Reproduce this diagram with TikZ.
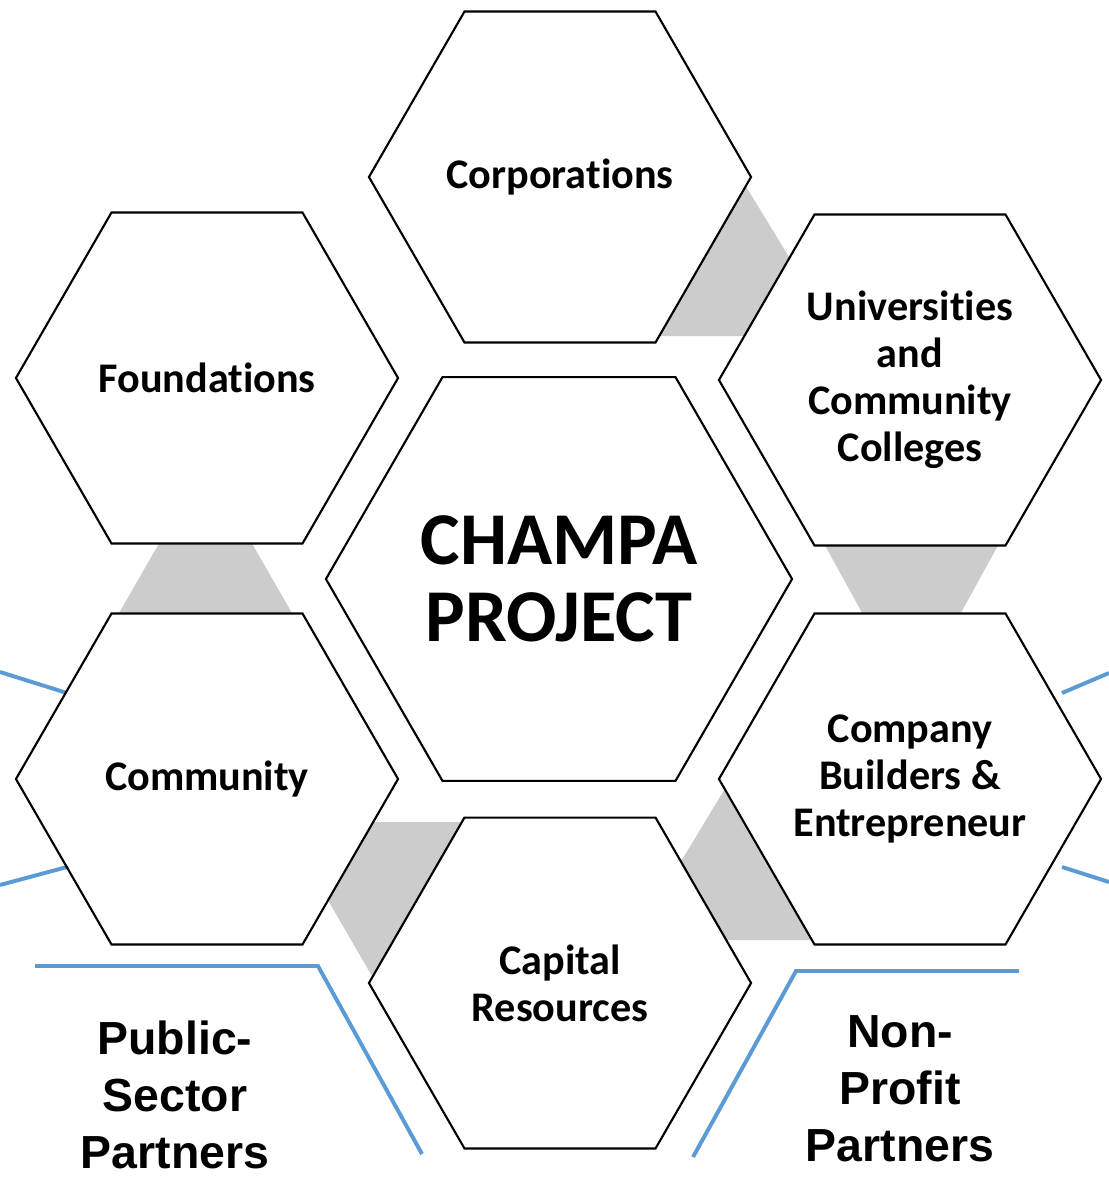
\documentclass[tikz,border=0pt]{standalone}
\usepackage{fontspec}
\setmainfont{Carlito}[Ligatures=NoCommon]
\newfontfamily\partnerfont{Liberation Sans}
\usetikzlibrary{shapes.geometric}
\definecolor{linkgray}{RGB}{204,204,204}
\definecolor{partnerblue}{RGB}{91,155,213}
\begin{document}
\begin{tikzpicture}[x=0.025cm,y=-0.025cm,
  hexa/.style={regular polygon,regular polygon sides=6,draw,fill=white,line width=1.5pt,
    inner sep=0pt,minimum size=9.55cm,align=center,font=\fontsize{30}{33.4}\selectfont\bfseries},
  bluerule/.style={draw=partnerblue,line width=2.8pt},
  partner/.style={align=center,font=\fontsize{33}{40.5}\selectfont\partnerfont\bfseries}]
\useasboundingbox (0,0) rectangle (1109,1177);
% gray links behind the hexagons
\fill[linkgray] (742,180) -- (800,275) -- (760,336) -- (650,336) -- cycle;
\fill[linkgray] (822,540) -- (1001,540) -- (957,620) -- (866,620) -- cycle;
\fill[linkgray] (161,540) -- (250,540) -- (296,620) -- (115,620) -- cycle;
\fill[linkgray] (370,822) -- (470,822) -- (380,990) -- (325,895) -- cycle;
\fill[linkgray] (735,772) -- (671,878) -- (715,940) -- (820,940) -- cycle;
% blue partner rules
\draw[bluerule] (0,672) -- (67,693);
\draw[bluerule] (0,885) -- (67,867);
\draw[bluerule] (1109,673) -- (1062,693);
\draw[bluerule] (1109,882) -- (1062,867);
\draw[bluerule] (35,966) -- (318,966) -- (422,1154);
\draw[bluerule] (1019,971) -- (796,971) -- (693,1157);
% hexagons
\node[hexa] (corp) at (560,177) {Corporations};
\node[hexa] (univ) at (910,380) {Universities\\and\\Community\\Colleges};
\node[hexa] (builders) at (910,779) {Company\\Builders \&\\Entrepreneur};
\node[hexa] (capital) at (560,983) {Capital\\Resources};
\node[hexa] (community) at (207,779) {Community};
\node[hexa] (found) at (207,378) {Foundations};
\node[hexa,minimum size=11.65cm,font=\fontsize{53}{55}\selectfont\bfseries] (champa) at (559,579) {CHAMPA\\PROJECT};
% partner labels
\node[partner] (public) at (175,1095) {Public-\\Sector\\Partners};
\node[partner] (nonprofit) at (900,1089) {Non-\\Profit\\Partners};
\end{tikzpicture}
\end{document}
